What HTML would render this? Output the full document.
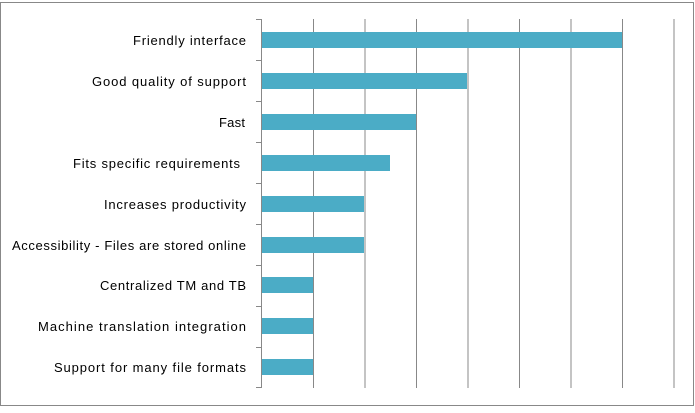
<!DOCTYPE html>
<html><head><style>body{margin:0;background:#fff}</style></head><body>
<svg width="695" height="408" xmlns="http://www.w3.org/2000/svg" font-family="Liberation Sans, sans-serif" font-size="13">
<rect x="0.5" y="2.5" width="693" height="403" fill="#fff" stroke="#888"/>
<g stroke="#888" stroke-width="1">
<line x1="313.5" y1="19" x2="313.5" y2="388"/><line x1="365" y1="19" x2="365" y2="388"/>
<line x1="416.5" y1="19" x2="416.5" y2="388"/><line x1="468" y1="19" x2="468" y2="388"/>
<line x1="519.5" y1="19" x2="519.5" y2="388"/><line x1="571" y1="19" x2="571" y2="388"/>
<line x1="622.5" y1="19" x2="622.5" y2="388"/><line x1="674" y1="19" x2="674" y2="388"/>
<line x1="261.5" y1="19" x2="261.5" y2="388"/>
<line x1="256" y1="19.5" x2="261" y2="19.5"/><line x1="256" y1="60.5" x2="261" y2="60.5"/>
<line x1="256" y1="101.5" x2="261" y2="101.5"/><line x1="256" y1="142.5" x2="261" y2="142.5"/>
<line x1="256" y1="183.5" x2="261" y2="183.5"/><line x1="256" y1="224.5" x2="261" y2="224.5"/>
<line x1="256" y1="265.5" x2="261" y2="265.5"/><line x1="256" y1="306.5" x2="261" y2="306.5"/>
<line x1="256" y1="347.5" x2="261" y2="347.5"/><line x1="256" y1="387.5" x2="261" y2="387.5"/>
</g>
<g fill="#4BACC6">
<rect x="262" y="32" width="360" height="16"/>
<rect x="262" y="73" width="205" height="16"/>
<rect x="262" y="114" width="154" height="16"/>
<rect x="262" y="155" width="128" height="16"/>
<rect x="262" y="196" width="102" height="16"/>
<rect x="262" y="237" width="102" height="16"/>
<rect x="262" y="277" width="51" height="16"/>
<rect x="262" y="318" width="51" height="16"/>
<rect x="262" y="359" width="51" height="16"/>
</g>
<g fill="#000" lengthAdjust="spacing">
<text x="133" y="45" textLength="113">Friendly interface</text>
<text x="92" y="86" textLength="154">Good quality of support</text>
<text x="219" y="127" textLength="26">Fast</text>
<text x="73" y="168" textLength="167">Fits specific requirements</text>
<text x="104" y="209" textLength="142">Increases productivity</text>
<text x="12" y="250" textLength="234">Accessibility - Files are stored online</text>
<text x="100" y="290" textLength="146">Centralized TM and TB</text>
<text x="38" y="331" textLength="208">Machine translation integration</text>
<text x="54" y="372" textLength="192">Support for many file formats</text>
</g>
</svg>
</body></html>
